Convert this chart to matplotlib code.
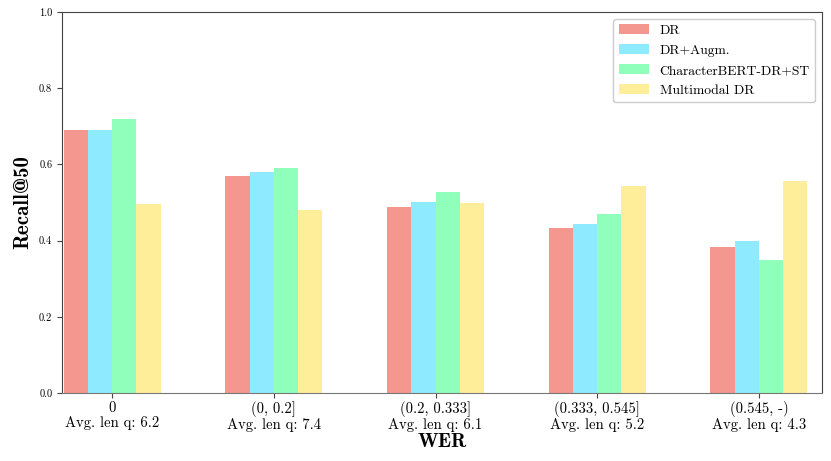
import matplotlib
matplotlib.use("Agg")
import matplotlib.pyplot as plt
import numpy as np

plt.rcParams['font.family'] = ['cmr10', 'DejaVu Serif']
plt.rcParams['mathtext.fontset'] = 'cm'
plt.rcParams['axes.unicode_minus'] = False
plt.rcParams['axes.formatter.use_mathtext'] = True

categories = ["0\nAvg. len q: 6.2", "(0, 0.2]\nAvg. len q: 7.4", "(0.2, 0.333]\nAvg. len q: 6.1",
              "(0.333, 0.545]\nAvg. len q: 5.2", "(0.545, -)\nAvg. len q: 4.3"]
series_names = ["DR", "DR+Augm.", "CharacterBERT-DR+ST", "Multimodal DR"]
dr = [0.690, 0.570, 0.489, 0.433, 0.384]
dr_augm = [0.690, 0.580, 0.502, 0.444, 0.399]
cbert = [0.719, 0.590, 0.527, 0.469, 0.349]
multimodal = [0.496, 0.480, 0.499, 0.543, 0.556]
colors = ["#F4978E", "#8EEBFF", "#8FFFBB", "#FFEE99"]

fig = plt.figure(figsize=(8.31, 4.61), dpi=100)
ax = fig.add_axes([62/831, 1 - 393/461, 760/831, 381/461])
x = np.arange(len(categories))
w = 0.15
for i, (vals, name) in enumerate(zip([dr, dr_augm, cbert, multimodal], series_names)):
    ax.bar(x + (i - 1.5) * w, vals, w, color=colors[i], label=name)

ax.set_xlim(-0.31, 4.39)
ax.set_ylim(0, 1.0)
ax.set_yticks([0.0, 0.2, 0.4, 0.6, 0.8, 1.0])
ax.set_yticklabels(["0.0", "0.2", "0.4", "0.6", "0.8", "1.0"], fontsize=7.5)
ax.set_xticks(x)
ax.set_xticklabels(categories, fontsize=10.6, linespacing=1.05)
ax.set_ylabel("Recall@50", fontsize=15, fontfamily=['cmb10', 'DejaVu Serif'], labelpad=5)
ax.set_xlabel("WER", fontsize=14.5, fontfamily=['cmb10', 'DejaVu Serif'], labelpad=1)
for s in ax.spines.values():
    s.set_color('#444444')
ax.spines['bottom'].set_color('#777777')
ax.tick_params(axis='both', color='#444444', length=3.5)
ax.tick_params(axis='x', pad=2.5)
ax.legend(loc='upper right', fontsize=9.8, framealpha=1, edgecolor='#cccccc', fancybox=True,
          handlelength=2.2, labelspacing=0.55)
fig.savefig("out.png", dpi=100)
